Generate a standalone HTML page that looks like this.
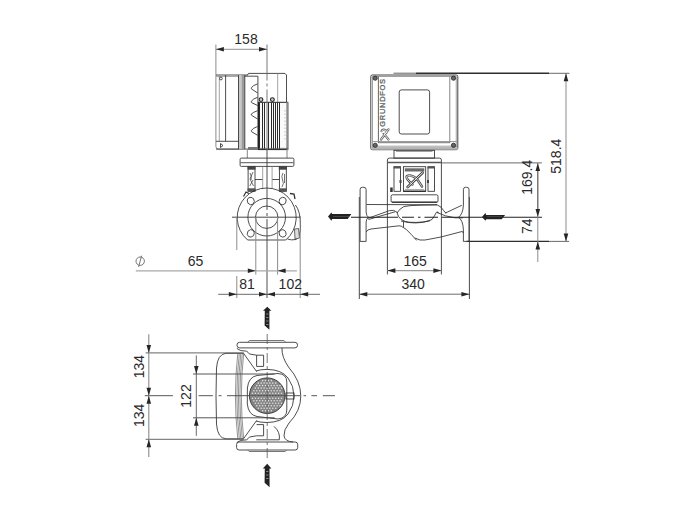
<!DOCTYPE html>
<html><head><meta charset="utf-8">
<style>
html,body{margin:0;padding:0;background:#fff;width:700px;height:512px;overflow:hidden}
svg{display:block}
.o{fill:none;stroke:#2e2e2e;stroke-width:0.85}
.g{fill:none;stroke:#8a8a8a;stroke-width:0.8}
.e{fill:none;stroke:#8c8c8c;stroke-width:1}
.dl{fill:none;stroke:#5a5a5a;stroke-width:0.9}
.k{fill:#222;stroke:none}
.t{font-family:"Liberation Sans",sans-serif;font-size:14px;fill:#2a2a2a}
</style></head>
<body>
<svg width="700" height="512" viewBox="0 0 700 512">

<!-- ============ LEFT VIEW ============ -->
<!-- 158 dimension -->
<line class="e" x1="215.9" y1="44.5" x2="215.9" y2="74.5" stroke-width="1.3"/>
<line x1="215.9" y1="49.3" x2="267" y2="49.3" stroke="#a5a5a5" stroke-width="1.3"/>
<path d="M0 0 L-8 -2.3 L-8 2.3 Z" fill="#262626" transform="translate(215.9,49.3) rotate(180)"/>
<path d="M0 0 L-8 -2.3 L-8 2.3 Z" fill="#262626" transform="translate(267,49.3)"/>
<text class="t" x="246" y="43.6" text-anchor="middle">158</text>

<!-- motor terminal box -->
<path class="e" d="M215.9 74.5 L215.9 146.5 Q215.9 149.1 218.5 149.1 L239 149.1" stroke-width="1.2"/>
<line class="o" x1="216" y1="75" x2="248" y2="75"/>
<line class="g" x1="216" y1="76.4" x2="239" y2="76.4"/>
<line class="g" x1="219.3" y1="75" x2="219.3" y2="141.3"/>
<line class="o" x1="225.6" y1="75" x2="225.6" y2="141.3"/>
<line class="o" x1="216" y1="141.3" x2="239.3" y2="141.3"/>

<line class="o" x1="216" y1="149.1" x2="248" y2="149.1"/>
<circle class="o" cx="220.9" cy="78.5" r="1.4"/>
<path class="o" d="M220.5 143.5 L223 145.5 L220.5 147.5 Z"/>
<!-- band -->
<rect x="238.5" y="75" width="3" height="74" fill="#c8c8c8"/>
<rect x="241.5" y="75" width="3.2" height="74" fill="#9c9c9c"/>
<line class="o" x1="238.5" y1="75" x2="238.5" y2="149"/>
<line class="o" x1="244.8" y1="75" x2="244.8" y2="149"/>
<!-- fin section -->
<path class="o" d="M244.8 76.2 L257.9 76.2 L257.9 149.3"/>
<path class="o" d="M257.6 83.8 Q253 85.3 251.2 87.9 Q251 88.8 252 89.3 L257.6 93.0 M257.6 97.3 Q253 98.8 251.2 101.4 Q251 102.3 252 102.8 L257.6 105.5 M257.6 110.7 Q253 112.2 251.2 114.2 Q251 115.1 252 115.6 L257.6 119.0 M257.6 126.5 Q253 128.0 251.2 130.6 Q251 131.5 252 132.0 L257.6 135.3"/>
<rect x="248" y="147" width="10" height="3" fill="#777"/>
<!-- motor top section -->
<path class="o" d="M247.6 75 L248.5 73.4 L285 73.4 L286.5 75 L286.5 102.3"/>
<line class="g" x1="277.7" y1="73.4" x2="277.7" y2="102"/>
<!-- stator fins -->
<rect x="258.5" y="102.3" width="29.2" height="47.3" fill="#fafafa" stroke="#222" stroke-width="1"/>
<g stroke="#2a2a2a" stroke-width="1"><line x1="259.5" y1="102.5" x2="259.5" y2="149.5"/><line x1="262.5" y1="102.5" x2="262.5" y2="149.5"/><line x1="264.5" y1="102.5" x2="264.5" y2="149.5"/><line x1="268.5" y1="102.5" x2="268.5" y2="149.5"/><line x1="271.5" y1="102.5" x2="271.5" y2="149.5"/><line x1="273.5" y1="102.5" x2="273.5" y2="149.5"/><line x1="275.5" y1="102.5" x2="275.5" y2="149.5"/><line x1="277.5" y1="102.5" x2="277.5" y2="149.5"/><line x1="279.5" y1="102.5" x2="279.5" y2="149.5"/></g>
<rect x="286.3" y="102.3" width="2.2" height="47.5" fill="#8a8a8a"/>
<line x1="285" y1="110" x2="285" y2="140" stroke="#999" stroke-width="0.6" stroke-dasharray="1.5 2"/>
<line x1="258.5" y1="148.4" x2="287.7" y2="148.4" stroke="#555" stroke-width="0.8"/>
<circle cx="261" cy="99.6" r="1.9" fill="#ccc" stroke="#222" stroke-width="1.1"/>
<circle cx="272.4" cy="99.6" r="1.9" fill="#ccc" stroke="#222" stroke-width="1.1"/>
<!-- neck -->
<path d="M247.3 150 V158.1 M287 150 V158.1" stroke="#777" stroke-width="0.9" fill="none"/>
<!-- flange plate -->
<rect class="o" x="240.1" y="158.1" width="53.8" height="8.3" rx="1.2"/>
<line x1="240.1" y1="162.6" x2="293.9" y2="162.6" stroke="#777" stroke-width="1.4"/>
<!-- legs -->
<rect x="248.1" y="166.4" width="6.9" height="24.9" fill="#fff" stroke="#2e2e2e" stroke-width="0.85"/>
<rect x="279.4" y="166.4" width="6.9" height="24.9" fill="#fff" stroke="#2e2e2e" stroke-width="0.85"/>
<rect x="247.5" y="166.4" width="8" height="3.3" fill="#444"/>
<rect x="278.8" y="166.4" width="8" height="3.3" fill="#444"/>
<rect x="247.5" y="188.3" width="8" height="3" fill="#555"/>
<rect x="278.8" y="188.3" width="8" height="3" fill="#555"/>
<path d="M253 172 L250 179 L253.5 186 M250 173 Q252 176 251 180 M249.8 186 L253 180" stroke="#333" stroke-width="0.7" fill="none"/>
<path d="M283 173 Q281 176 282.5 180 Q284.5 183 282 187 M284.5 174 L284.5 183" stroke="#333" stroke-width="0.7" fill="none"/>
<line class="o" x1="255" y1="179.5" x2="262.7" y2="179.5"/>
<line class="o" x1="272.1" y1="179.5" x2="279.4" y2="179.5"/>
<line class="g" x1="262.7" y1="166.4" x2="262.7" y2="189"/>
<line class="g" x1="272.1" y1="166.4" x2="272.1" y2="189"/>
<!-- pump flange circle -->
<path class="o" d="M247.6 240 A29.5 29.5 0 1 1 285.8 240 Z"/>
<circle class="o" cx="266.7" cy="217.2" r="18.8"/>
<circle class="o" cx="266.7" cy="217.2" r="11.2"/>
<g class="o">
<path d="M247.2 200 Q248 197 251 197.3 Q254.5 198 254.3 201.5 Q254 205 250.5 204.8 Q247 204 247.2 200 Z"/>
<path d="M286.2 200 Q285.4 197 282.4 197.3 Q278.9 198 279.1 201.5 Q279.4 205 282.9 204.8 Q286.4 204 286.2 200 Z"/>
<path d="M247.2 234.4 Q248 237.4 251 237.1 Q254.5 236.4 254.3 232.9 Q254 229.4 250.5 229.6 Q247 230.4 247.2 234.4 Z"/>
<path d="M286.2 234.4 Q285.4 237.4 282.4 237.1 Q278.9 236.4 279.1 232.9 Q279.4 229.4 282.9 229.6 Q286.4 230.4 286.2 234.4 Z"/>
</g>
<path class="o" d="M295.4 205 Q300.5 211 300.6 226 Q300.5 237 296 239.5 Q291 240.5 287.5 239"/>
<path d="M294.5 229 L298.5 228.5 L299.5 238 L295 239 Z" fill="#ddd" stroke="#444" stroke-width="0.8"/>
<path d="M243.5 196.5 L246 192 L249 193.5" stroke="#333" stroke-width="1.2" fill="none"/>
<path d="M290 193.5 L294 194 L295 199" stroke="#333" stroke-width="1.3" fill="none"/>
<!-- center lines -->
<line x1="267" y1="44.5" x2="267" y2="150" stroke="#6a6a6a" stroke-width="0.9" stroke-dasharray="36 3 3 3 120"/><line x1="267" y1="150" x2="267" y2="298" stroke="#3a3a3a" stroke-width="0.9" stroke-dasharray="60 3 3 3 200"/>
<line x1="232" y1="217.2" x2="301" y2="217.2" stroke="#333" stroke-width="0.9"/>

<!-- Ø65 -->
<line class="e" x1="236.8" y1="217" x2="236.8" y2="250"/>
<line class="e" x1="236.8" y1="276" x2="236.8" y2="298"/>
<line class="e" x1="255.8" y1="217" x2="255.8" y2="274.6"/>
<line class="e" x1="277.6" y1="217" x2="277.6" y2="274.6"/>
<line class="e" x1="300.2" y1="217" x2="300.2" y2="298"/>
<line x1="135.8" y1="270.8" x2="296.9" y2="270.8" stroke="#a8a8a8" stroke-width="1.3"/>
<path d="M0 0 L-8 -2.3 L-8 2.3 Z" fill="#262626" transform="translate(255.8,270.8)"/>
<path d="M0 0 L-8 -2.3 L-8 2.3 Z" fill="#262626" transform="translate(277.6,270.8) rotate(180)"/>
<circle cx="140.2" cy="261.2" r="4.2" fill="none" stroke="#666" stroke-width="0.9"/>
<line x1="141.6" y1="255.7" x2="138.6" y2="266.9" stroke="#666" stroke-width="0.9"/>
<text class="t" x="195.5" y="265.9" text-anchor="middle">65</text>
<!-- 81 / 102 -->
<line class="dl" x1="218.2" y1="294.3" x2="320" y2="294.3"/>
<path d="M0 0 L-8 -2.3 L-8 2.3 Z" fill="#262626" transform="translate(236.8,294.3)"/>
<path d="M0 0 L-8 -2.3 L-8 2.3 Z" fill="#262626" transform="translate(267,294.3)"/>
<path d="M0 0 L-8 -2.3 L-8 2.3 Z" fill="#262626" transform="translate(267,294.3) rotate(180)"/>
<path d="M0 0 L-8 -2.3 L-8 2.3 Z" fill="#262626" transform="translate(300.2,294.3) rotate(180)"/>
<text class="t" x="247" y="288.9" text-anchor="middle">81</text>
<text class="t" x="290.3" y="288.9" text-anchor="middle">102</text>

<!-- ============ RIGHT VIEW ============ -->
<!-- plate top line -->
<line x1="393.5" y1="73.2" x2="416" y2="73.2" stroke="#555" stroke-width="0.9"/>
<line x1="416" y1="73.2" x2="549" y2="73.2" stroke="#2e2e2e" stroke-width="1.4"/>
<line x1="549" y1="73.3" x2="569.4" y2="73.3" stroke="#444" stroke-width="0.8"/>
<!-- motor box -->
<rect x="370.8" y="75" width="87" height="74.7" rx="1.5" fill="#fff" stroke="#2e2e2e" stroke-width="0.9"/>
<rect class="g" x="372.4" y="76.6" width="83.8" height="71.2"/>
<line x1="378.4" y1="76.5" x2="378.4" y2="142.8" stroke="#555" stroke-width="0.9"/>
<line x1="449.8" y1="76.5" x2="449.8" y2="142.8" stroke="#777" stroke-width="0.9"/>
<line x1="372.5" y1="141.6" x2="456.7" y2="141.6" stroke="#888" stroke-width="0.9"/><line x1="378.3" y1="142.7" x2="449.8" y2="142.7" stroke="#444" stroke-width="0.7"/>
<line class="g" x1="372.5" y1="146.2" x2="456.7" y2="146.2"/>
<rect x="371.5" y="147.5" width="86.2" height="2.2" fill="#b5b5b5"/>
<circle cx="375.2" cy="78.2" r="2.1" fill="#666" stroke="#222" stroke-width="0.8"/>
<circle cx="453.5" cy="78.2" r="2.1" fill="#666" stroke="#222" stroke-width="0.8"/>
<circle cx="375.2" cy="145.3" r="2.1" fill="#666" stroke="#222" stroke-width="0.8"/>
<circle cx="453.5" cy="145.3" r="2.1" fill="#666" stroke="#222" stroke-width="0.8"/>
<rect class="o" x="399.2" y="89.9" width="30.4" height="44.1" rx="2.2"/>
<text transform="translate(385.2,126.7) rotate(-90)" font-family="Liberation Sans" font-size="7.5" fill="#777" stroke="#555" stroke-width="0.3" letter-spacing="0.7">GRUNDFOS</text>
<g fill="none" stroke-linecap="round"><path d="M381 139.5 L388.5 129.5 M381.5 131 Q383 128.5 386 130.5 Q388 133 384 134 L388.5 139.5" stroke="#666" stroke-width="2.2"/><path d="M381 139.5 L388.5 129.5 M381.5 131 Q383 128.5 386 130.5 Q388 133 384 134 L388.5 139.5" stroke="#fff" stroke-width="0.8"/></g>
<!-- neck -->
<rect class="o" x="394" y="150.3" width="40.5" height="7.8"/>
<line class="g" x1="396" y1="151.5" x2="432.5" y2="151.5"/>
<!-- top block -->
<path class="o" d="M387.4 274.4 L387.4 160 Q387.4 158.1 389.4 158.1 L439.5 158.1 Q441.4 158.1 441.4 160 L441.4 274.4" stroke-width="1"/>
<line x1="387.4" y1="162.5" x2="441.4" y2="162.5" stroke="#555" stroke-width="1.3"/>
<line x1="441.4" y1="162.9" x2="541.9" y2="162.9" stroke="#444" stroke-width="0.8"/>
<rect class="o" x="394" y="166.7" width="6.5" height="24.6"/>
<rect class="o" x="428" y="166.7" width="6.5" height="24.6"/>
<rect x="393.5" y="166.5" width="7.5" height="2" fill="#555"/>
<rect x="427.5" y="166.5" width="7.5" height="2" fill="#555"/>
<rect x="399.5" y="180" width="2" height="3" fill="#444"/>
<rect x="427" y="180" width="2" height="3" fill="#444"/>
<rect class="o" x="403.4" y="166.7" width="22.3" height="24.6"/><line x1="403.4" y1="191.2" x2="425.7" y2="191.2" stroke="#222" stroke-width="1.2"/>
<rect x="404.8" y="168.3" width="19.5" height="3.2" fill="#6a6a6a"/>
<line class="g" x1="404.8" y1="189.6" x2="424.3" y2="189.6"/>
<g fill="none" stroke-linecap="round"><path d="M422.6 172.7 L407.6 187" stroke="#444" stroke-width="2.6"/><path d="M412.5 184.5 Q406 179 406.6 176.5 Q408 174.5 413 176.3 Q416 177.5 418 180.5 L422 186.5" stroke="#444" stroke-width="2.4"/><path d="M422.6 172.7 L407.6 187" stroke="#fff" stroke-width="0.9"/><path d="M412.5 184.5 Q406 179 406.6 176.5 Q408 174.5 413 176.3 Q416 177.5 418 180.5 L422 186.5" stroke="#fff" stroke-width="0.8"/></g>
<rect x="390.2" y="187.5" width="2.5" height="4.5" fill="#333"/>
<rect class="o" x="391.1" y="194.8" width="46.9" height="7.6" rx="1.5"/><line x1="392" y1="202.2" x2="437" y2="202.2" stroke="#333" stroke-width="1.2"/>
<!-- flanges -->
<path class="o" d="M360.1 241.4 L360.1 189.5 Q360.1 187.3 362.3 187.3 L364 187.3 Q366.1 187.3 366.1 189.5 L366.1 212 Q366.3 216 368.5 217.3 Q366.3 218.6 366.1 222 L366.1 241.4 Z"/>
<path class="o" d="M469 241.4 L469 189.5 Q469 187.3 466.8 187.3 L465.5 187.3 Q463.4 187.3 463.4 189.5 L463.4 205 Q463 214 458.5 217.3 Q463 220 463.4 230 L463.4 241.4 Z"/>
<!-- pump body -->
<g class="o">
<path d="M366.5 204.5 L437 204.8"/>
<path d="M368 218.3 L389.5 210.6 Q394 209.5 396.8 212"/>
<path d="M368.5 219.5 L395 211.8"/>
<path d="M397 213 Q399 209 404 206.5 Q410 205.3 420 205.2 L437 204.8 Q441.5 206.5 443.7 210.6 L446 213.3"/>
<path d="M396.8 212 Q398 217 401 219.4 Q405 222 410 222.3 Q425 223 432 219.5 Q434.5 216 436.5 212.2 Q439 211.5 438 213"/>
<path d="M401 221 Q415 225 430 220.8"/>
<path d="M445.2 213.1 L461.8 205.3"/>
<path d="M437 212.5 Q445 216.5 455 217.8 L463 217.8"/>
<path d="M366.1 232.1 Q367 229.5 371 229 L399 225.8 Q401.5 225.8 403 227.3 L406 229.2 Q411 234 416.7 240.4"/>
<path d="M403.5 222 L403.5 227"/>
<path d="M414.9 238 Q420 241 425 240 L441 237 L462 231.5 Q463.4 232 463.4 233"/>
</g>
<!-- extension lines 340 -->
<line x1="359.3" y1="197" x2="359.3" y2="299" stroke="#4a4a4a" stroke-width="1"/>
<line x1="469.4" y1="197" x2="469.4" y2="299" stroke="#4a4a4a" stroke-width="1"/>
<!-- center line -->
<path d="M351 217.2 H398 M402 217.2 H414 M418 217.2 H420.5 M424.5 217.2 H438 M442 217.2 H541.9" stroke="#222" stroke-width="1.1" fill="none"/>
<line x1="466.6" y1="241.4" x2="549" y2="241.4" stroke="#2e2e2e" stroke-width="1.4"/>
<line x1="549" y1="241.4" x2="569.1" y2="241.4" stroke="#444" stroke-width="0.8"/>
<!-- flow arrows -->
<path class="k" d="M328 216.6 L331.4 212.4 L332.2 214.1 L351.4 214.1 L347.7 219 L332.2 219 L331.4 220.7 Z"/><line x1="333" y1="216.5" x2="349" y2="216.5" stroke="#666" stroke-width="0.5"/>
<path class="k" d="M482 217 L485.4 213 L486.2 215 L505.1 215 L501.7 219.3 L486.2 219.3 L485.4 220.7 Z"/><line x1="487" y1="216.6" x2="502" y2="216.6" stroke="#666" stroke-width="0.5"/>
<!-- 165 -->
<line x1="387.4" y1="270.7" x2="441.4" y2="270.7" stroke="#9a9a9a" stroke-width="1.3"/>
<path d="M0 0 L-8 -2.3 L-8 2.3 Z" fill="#262626" transform="translate(387.4,270.6) rotate(180)"/>
<path d="M0 0 L-8 -2.3 L-8 2.3 Z" fill="#262626" transform="translate(441.4,270.6)"/>
<text class="t" x="415.2" y="265.7" text-anchor="middle">165</text>
<!-- 340 -->
<line class="dl" x1="359.3" y1="294.2" x2="469.4" y2="294.2"/>
<path d="M0 0 L-8 -2.3 L-8 2.3 Z" fill="#262626" transform="translate(359.3,294.2) rotate(180)"/>
<path d="M0 0 L-8 -2.3 L-8 2.3 Z" fill="#262626" transform="translate(469.4,294.2)"/>
<text class="t" x="413.2" y="288.8" text-anchor="middle">340</text>
<!-- 169.4 / 74 -->
<line class="e" x1="537.8" y1="162.9" x2="537.8" y2="262"/>
<line class="dl" x1="537.8" y1="169" x2="537.8" y2="211"/>
<path d="M0 0 L-8 -2.3 L-8 2.3 Z" fill="#262626" transform="translate(537.8,162.9) rotate(-90)"/>
<path d="M0 0 L-8 -2.3 L-8 2.3 Z" fill="#262626" transform="translate(537.8,217.1) rotate(90)"/>
<path d="M0 0 L-8 -2.3 L-8 2.3 Z" fill="#262626" transform="translate(537.8,241.4) rotate(-90)"/>
<text class="t" transform="translate(531.8,177.3) rotate(-90)" text-anchor="middle">169.4</text>
<text class="t" transform="translate(531.8,226.2) rotate(-90)" text-anchor="middle">74</text>
<!-- 518.4 -->
<line class="e" x1="566" y1="73.3" x2="566" y2="241.4"/>
<path d="M0 0 L-8 -2.3 L-8 2.3 Z" fill="#262626" transform="translate(566,73.3) rotate(-90)"/>
<path d="M0 0 L-8 -2.3 L-8 2.3 Z" fill="#262626" transform="translate(566,241.4) rotate(90)"/>
<text class="t" transform="translate(561,156.2) rotate(-90)" text-anchor="middle">518.4</text>

<!-- ============ BOTTOM VIEW ============ -->
<!-- flanges -->
<rect class="o" x="237" y="342.3" width="60.5" height="5.6" rx="2.6"/>
<path d="M247.7 342.3 L249.3 340.5 H284 L285.7 342.3" stroke="#666" stroke-width="0.9" fill="none"/>
<rect class="o" x="236.6" y="442" width="61.1" height="8" rx="2.5"/>
<path d="M247.7 450 L249.2 451.5 H285.3 L286.8 450" stroke="#666" stroke-width="0.9" fill="none"/>
<!-- motor body -->
<path class="o" d="M243.7 353.3 L226 353.3 Q217.5 354 216.5 368 L216 396 L216.5 424 Q217.5 438.5 226 438.8 L243.7 438.8"/>
<g stroke="#666" stroke-width="0.7" fill="none">
<path d="M237.8 353.3 Q233 396 237.8 438.8"/>
<path d="M239.3 353.3 Q234.5 396 239.3 438.8"/>
<path d="M240.8 353.3 Q236 396 240.8 438.8"/>
<path d="M242.3 353.3 Q237.5 396 242.3 438.8"/>
<path d="M243.7 353.3 Q239 396 243.7 438.8"/>
</g>
<path class="o" d="M243.7 353.5 L256.6 371.6 M243.7 438.5 L256.6 420.5"/>
<path class="o" d="M236.8 348.5 Q240 351.3 246.6 351.2 Q248 352 249.5 354 L256.6 355.2 L263.6 355.2 L263.6 366.4 L256.6 366.4 L256.6 355.2"/>
<path class="o" d="M236.8 442.5 Q240 439.7 246.6 439.8 Q248 439 249.5 437 L256.6 435.8 L263.6 435.8 L263.6 424.6 L256.6 424.6"/>
<!-- volute -->
<path class="o" d="M282 347.9 Q281.5 357 288.5 367 Q300.8 381 300.8 396 Q300.8 411 289 423 Q283.5 430 284 436 Q285 441.5 293 442"/>
<path class="o" d="M256 371 Q260 369.4 267 369.4 Q282 369.6 288 378 Q294 386 294 396 Q294 406 288 414 Q282 422.3 267 422.5 Q260 422.5 256 421"/>
<path class="o" d="M256.3 439.8 H279.3 Q280.5 432 274 426.4"/>
<!-- grille housing -->
<path class="o" d="M257 375.5 Q248.5 377 247.4 388 L247.3 404 Q248.5 415 257 416.5 L278 419 Q286.8 418 286.8 410 L286.8 382 Q286.8 374 278 373.5 Z"/>
<rect class="o" x="286" y="393" width="8" height="6"/>
<!-- grille -->
<circle cx="267.2" cy="395.7" r="17.8" fill="#858585" stroke="#333" stroke-width="0.9"/>
<g fill="#e2e2e2"><circle cx="262.6" cy="380.6" r="0.8"/><circle cx="265.5" cy="380.6" r="0.8"/><circle cx="268.4" cy="380.6" r="0.8"/><circle cx="271.3" cy="380.6" r="0.8"/><circle cx="258.3" cy="383.1" r="0.8"/><circle cx="261.2" cy="383.1" r="0.8"/><circle cx="264.1" cy="383.1" r="0.8"/><circle cx="267.0" cy="383.1" r="0.8"/><circle cx="269.9" cy="383.1" r="0.8"/><circle cx="272.8" cy="383.1" r="0.8"/><circle cx="275.7" cy="383.1" r="0.8"/><circle cx="256.8" cy="385.6" r="0.8"/><circle cx="259.7" cy="385.6" r="0.8"/><circle cx="262.6" cy="385.6" r="0.8"/><circle cx="265.5" cy="385.6" r="0.8"/><circle cx="268.4" cy="385.6" r="0.8"/><circle cx="271.3" cy="385.6" r="0.8"/><circle cx="274.2" cy="385.6" r="0.8"/><circle cx="277.1" cy="385.6" r="0.8"/><circle cx="280.0" cy="385.6" r="0.8"/><circle cx="255.4" cy="388.1" r="0.8"/><circle cx="258.3" cy="388.1" r="0.8"/><circle cx="261.2" cy="388.1" r="0.8"/><circle cx="264.1" cy="388.1" r="0.8"/><circle cx="267.0" cy="388.1" r="0.8"/><circle cx="269.9" cy="388.1" r="0.8"/><circle cx="272.8" cy="388.1" r="0.8"/><circle cx="275.7" cy="388.1" r="0.8"/><circle cx="278.6" cy="388.1" r="0.8"/><circle cx="281.5" cy="388.1" r="0.8"/><circle cx="253.9" cy="390.7" r="0.8"/><circle cx="256.8" cy="390.7" r="0.8"/><circle cx="259.7" cy="390.7" r="0.8"/><circle cx="262.6" cy="390.7" r="0.8"/><circle cx="265.5" cy="390.7" r="0.8"/><circle cx="268.4" cy="390.7" r="0.8"/><circle cx="271.3" cy="390.7" r="0.8"/><circle cx="274.2" cy="390.7" r="0.8"/><circle cx="277.1" cy="390.7" r="0.8"/><circle cx="280.0" cy="390.7" r="0.8"/><circle cx="252.5" cy="393.2" r="0.8"/><circle cx="255.4" cy="393.2" r="0.8"/><circle cx="258.3" cy="393.2" r="0.8"/><circle cx="261.2" cy="393.2" r="0.8"/><circle cx="264.1" cy="393.2" r="0.8"/><circle cx="267.0" cy="393.2" r="0.8"/><circle cx="269.9" cy="393.2" r="0.8"/><circle cx="272.8" cy="393.2" r="0.8"/><circle cx="275.7" cy="393.2" r="0.8"/><circle cx="278.6" cy="393.2" r="0.8"/><circle cx="281.5" cy="393.2" r="0.8"/><circle cx="251.0" cy="395.7" r="0.8"/><circle cx="253.9" cy="395.7" r="0.8"/><circle cx="256.8" cy="395.7" r="0.8"/><circle cx="259.7" cy="395.7" r="0.8"/><circle cx="262.6" cy="395.7" r="0.8"/><circle cx="265.5" cy="395.7" r="0.8"/><circle cx="268.4" cy="395.7" r="0.8"/><circle cx="271.3" cy="395.7" r="0.8"/><circle cx="274.2" cy="395.7" r="0.8"/><circle cx="277.1" cy="395.7" r="0.8"/><circle cx="280.0" cy="395.7" r="0.8"/><circle cx="282.9" cy="395.7" r="0.8"/><circle cx="252.5" cy="398.2" r="0.8"/><circle cx="255.4" cy="398.2" r="0.8"/><circle cx="258.3" cy="398.2" r="0.8"/><circle cx="261.2" cy="398.2" r="0.8"/><circle cx="264.1" cy="398.2" r="0.8"/><circle cx="267.0" cy="398.2" r="0.8"/><circle cx="269.9" cy="398.2" r="0.8"/><circle cx="272.8" cy="398.2" r="0.8"/><circle cx="275.7" cy="398.2" r="0.8"/><circle cx="278.6" cy="398.2" r="0.8"/><circle cx="281.5" cy="398.2" r="0.8"/><circle cx="253.9" cy="400.7" r="0.8"/><circle cx="256.8" cy="400.7" r="0.8"/><circle cx="259.7" cy="400.7" r="0.8"/><circle cx="262.6" cy="400.7" r="0.8"/><circle cx="265.5" cy="400.7" r="0.8"/><circle cx="268.4" cy="400.7" r="0.8"/><circle cx="271.3" cy="400.7" r="0.8"/><circle cx="274.2" cy="400.7" r="0.8"/><circle cx="277.1" cy="400.7" r="0.8"/><circle cx="280.0" cy="400.7" r="0.8"/><circle cx="255.4" cy="403.2" r="0.8"/><circle cx="258.3" cy="403.2" r="0.8"/><circle cx="261.2" cy="403.2" r="0.8"/><circle cx="264.1" cy="403.2" r="0.8"/><circle cx="267.0" cy="403.2" r="0.8"/><circle cx="269.9" cy="403.2" r="0.8"/><circle cx="272.8" cy="403.2" r="0.8"/><circle cx="275.7" cy="403.2" r="0.8"/><circle cx="278.6" cy="403.2" r="0.8"/><circle cx="281.5" cy="403.2" r="0.8"/><circle cx="256.8" cy="405.7" r="0.8"/><circle cx="259.7" cy="405.7" r="0.8"/><circle cx="262.6" cy="405.7" r="0.8"/><circle cx="265.5" cy="405.7" r="0.8"/><circle cx="268.4" cy="405.7" r="0.8"/><circle cx="271.3" cy="405.7" r="0.8"/><circle cx="274.2" cy="405.7" r="0.8"/><circle cx="277.1" cy="405.7" r="0.8"/><circle cx="280.0" cy="405.7" r="0.8"/><circle cx="258.3" cy="408.2" r="0.8"/><circle cx="261.2" cy="408.2" r="0.8"/><circle cx="264.1" cy="408.2" r="0.8"/><circle cx="267.0" cy="408.2" r="0.8"/><circle cx="269.9" cy="408.2" r="0.8"/><circle cx="272.8" cy="408.2" r="0.8"/><circle cx="275.7" cy="408.2" r="0.8"/><circle cx="262.6" cy="410.7" r="0.8"/><circle cx="265.5" cy="410.7" r="0.8"/><circle cx="268.4" cy="410.7" r="0.8"/><circle cx="271.3" cy="410.7" r="0.8"/></g>
<!-- center lines -->
<line x1="267.2" y1="334" x2="267.2" y2="458" stroke="#555" stroke-width="0.8" stroke-dasharray="10 3 3 3"/>
<path d="M144.8 395.7 H172.9 M198.6 395.7 H212.9 M218.6 395.7 H221.5 M227 395.7 H300 M303.5 395.7 H306 M311.4 395.7 H317 M322.9 395.7 H335" stroke="#444" stroke-width="0.9" fill="none"/>
<!-- flow arrows -->
<path class="k" d="M267.3 306.7 L271.4 310.8 L269.4 310.8 L269.4 329.7 L264.6 325.5 L264.8 310.8 L263 310.8 Z"/>
<path class="k" d="M267.2 463.7 L271.4 468.4 L269.5 468.4 L269.6 487.2 L264.6 482.8 L264.8 468.4 L262.8 468.4 Z"/>
<g stroke="#888" stroke-width="1"><line x1="266.2" y1="314.0" x2="268.4" y2="314.0"/><line x1="266.2" y1="317.5" x2="268.4" y2="317.5"/><line x1="266.2" y1="321.0" x2="268.4" y2="321.0"/><line x1="266.2" y1="324.5" x2="268.4" y2="324.5"/><line x1="266.2" y1="471.5" x2="268.4" y2="471.5"/><line x1="266.2" y1="475.0" x2="268.4" y2="475.0"/><line x1="266.2" y1="478.5" x2="268.4" y2="478.5"/></g>
<!-- 134 / 134 -->
<line x1="145.6" y1="352.9" x2="243.7" y2="352.9" stroke="#555" stroke-width="0.9"/>
<line x1="145.6" y1="439.3" x2="243.7" y2="439.3" stroke="#555" stroke-width="0.9"/>
<line x1="148.8" y1="334.2" x2="148.8" y2="457" stroke="#8a8a8a" stroke-width="1.1"/>

<path d="M0 0 L-8 -2.3 L-8 2.3 Z" fill="#262626" transform="translate(148.8,352.9) rotate(90)"/>
<path d="M0 0 L-8 -2.3 L-8 2.3 Z" fill="#262626" transform="translate(148.8,395.7) rotate(90)"/>
<path d="M0 0 L-8 -2.3 L-8 2.3 Z" fill="#262626" transform="translate(148.8,395.7) rotate(-90)"/>
<path d="M0 0 L-8 -2.3 L-8 2.3 Z" fill="#262626" transform="translate(148.8,439.3) rotate(-90)"/>
<text class="t" transform="translate(143.6,366.6) rotate(-90)" text-anchor="middle">134</text>
<text class="t" transform="translate(143.6,415.4) rotate(-90)" text-anchor="middle">134</text>
<!-- 122 -->
<line x1="193" y1="374" x2="274.6" y2="374" stroke="#444" stroke-width="0.9"/>
<line x1="193" y1="417.8" x2="274.6" y2="417.8" stroke="#444" stroke-width="0.9"/>
<line class="dl" x1="196.3" y1="355.4" x2="196.3" y2="435.8"/>
<path d="M0 0 L-8 -2.3 L-8 2.3 Z" fill="#262626" transform="translate(196.3,374) rotate(90)"/>
<path d="M0 0 L-8 -2.3 L-8 2.3 Z" fill="#262626" transform="translate(196.3,417.8) rotate(-90)"/>
<text class="t" transform="translate(190.8,396) rotate(-90)" text-anchor="middle">122</text>
</svg>
</body></html>
